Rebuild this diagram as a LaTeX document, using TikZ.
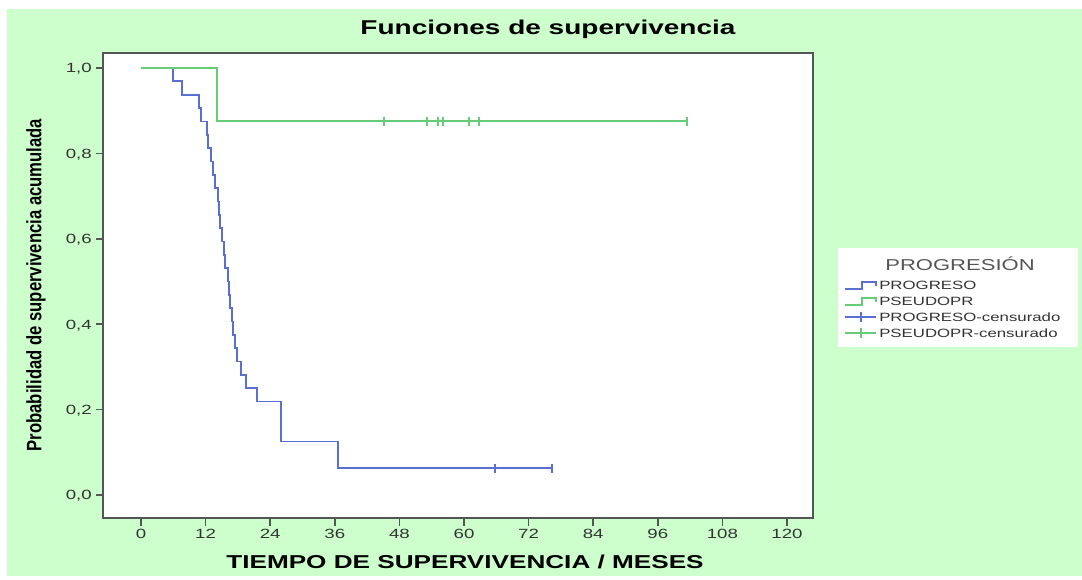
\documentclass[tikz,border=0pt]{standalone}
\usepackage{fontspec}
\setmainfont{Liberation Sans}
\newcommand{\hstr}[1]{\scalebox{1.4}[1]{#1}}
\definecolor{bgg}{HTML}{CCFFCC}
\definecolor{kmblue}{HTML}{5A6FD2}
\definecolor{kmgreen}{HTML}{66CC77}
\definecolor{axisgray}{HTML}{555555}
\definecolor{txtgray}{HTML}{333333}
\begin{document}
\begin{tikzpicture}[x=0.75pt,y=-0.75pt,
  xtl/.style={font=\fontsize{10}{12}\selectfont, text=txtgray, inner sep=0pt},
  ytl/.style={font=\fontsize{10}{12}\selectfont, text=txtgray, anchor=east, inner sep=0pt},
  axtick/.style={draw=axisgray, line width=1.2pt},
  kmcurve/.style={line width=1.3pt, line join=miter},
  censmark/.style={line width=1.6pt},
  legtxt/.style={font=\fontsize{9}{11}\selectfont, text=txtgray, anchor=west, inner sep=0pt},
  legsym/.style={line width=1.2pt}]
\useasboundingbox (0,0) rectangle (1082,579);
% background
\fill[white] (0,0) rectangle (1082,579);
\fill[bgg] (7,9) rectangle (1082,576);
% plot area
\filldraw[fill=white, draw=axisgray, line width=1.2pt] (103,53) rectangle (813,518);
% title
\node[font=\fontsize{15}{18}\selectfont\bfseries, inner sep=0pt] (title) at (548,29) {\hstr{Funciones de supervivencia}};
% x ticks
\foreach \m in {0,12,...,120} {
  \draw[axtick] ({141+5.3833*\m},518) -- ({141+5.3833*\m},526);
  \node[xtl] (xt\m) at ({141+5.3833*\m},534) {\hstr{\m}};
}
% y ticks
\foreach \v/\l in {0/{0,0},0.2/{0,2},0.4/{0,4},0.6/{0,6},0.8/{0,8},1/{1,0}} {
  \draw[axtick] (96,{495-427*\v}) -- (103,{495-427*\v});
  \node[ytl] at (92,{495-427*\v+1}) {\hstr{\l}};
}
% axis titles
\node[font=\fontsize{14}{17}\selectfont\bfseries, inner sep=0pt] (xlab) at (465,562) {\hstr{TIEMPO DE SUPERVIVENCIA / MESES}};
\node[font=\fontsize{12.5}{15}\selectfont\bfseries, rotate=90, inner sep=0pt] (ylab) at (36,285) {\scalebox{1}[1.25]{Probabilidad de supervivencia acumulada}};
% curves
\begin{scope}[shift={(141,495)}, x=4.0375pt, y=320.25pt]
\draw[kmcurve, kmblue] (0,1) -| (6.0,.96875) -| (7.67,.9375) -| (10.77,.90625) -| (11.15,.875)
  -| (12.32,.84375) -| (12.5,.8125) -| (13.0,.78125) -| (13.37,.75) -| (13.75,.71875)
  -| (14.36,.6875) -| (14.49,.65625) -| (14.67,.625) -| (14.99,.59375) -| (15.42,.5625)
  -| (15.6,.53125) -| (16.22,.5) -| (16.4,.46875) -| (16.53,.4375) -| (16.85,.40625)
  -| (17.15,.375) -| (17.46,.34375) -| (17.78,.3125) -| (18.54,.28125) -| (19.45,.25)
  -| (21.49,.21875) -| (26.0,.125) -| (36.65,.0625) -- (76.3,.0625);
\draw[kmcurve, kmgreen, line width=1.6pt] (0,1) -| (14.1,.875) -- (101.4,.875);
\end{scope}
% censoring marks
\foreach \m in {65.8,76.3} {
  \draw[censmark, kmblue] ({141+5.3833*\m},{495-427*0.0625-4.5}) -- ({141+5.3833*\m},{495-427*0.0625+4.5});
}
\foreach \m in {45.1,53.1,55.2,56.1,60.9,62.8,101.4} {
  \draw[censmark, kmgreen] ({141+5.3833*\m},{495-427*0.875-4.5}) -- ({141+5.3833*\m},{495-427*0.875+4.5});
}
% legend
\fill[white] (838,248) rectangle (1078,347);
\node[font=\fontsize{11.8}{14}\selectfont, text=axisgray, inner sep=0pt] (legtitle) at (960,264) {\hstr{PROGRESIÓN}};
\draw[legsym, kmblue] (845,289) -- (862,289) -- (862,282) -- (876,282) -- (876,286);
\draw[legsym, kmgreen] (845,305) -- (862,305) -- (862,298) -- (876,298) -- (876,302);
\draw[legsym, kmblue] (845,317) -- (876,317) (861,312) -- (861,322);
\draw[legsym, kmgreen] (845,333) -- (876,333) (861,328) -- (861,338);
\node[legtxt] (l1) at (879,285) {\hstr{PROGRESO}};
\node[legtxt] (l2) at (879,301) {\hstr{PSEUDOPR}};
\node[legtxt] (l3) at (879,317) {\hstr{PROGRESO-censurado}};
\node[legtxt] (l4) at (879,333) {\hstr{PSEUDOPR-censurado}};
\end{tikzpicture}
\end{document}
